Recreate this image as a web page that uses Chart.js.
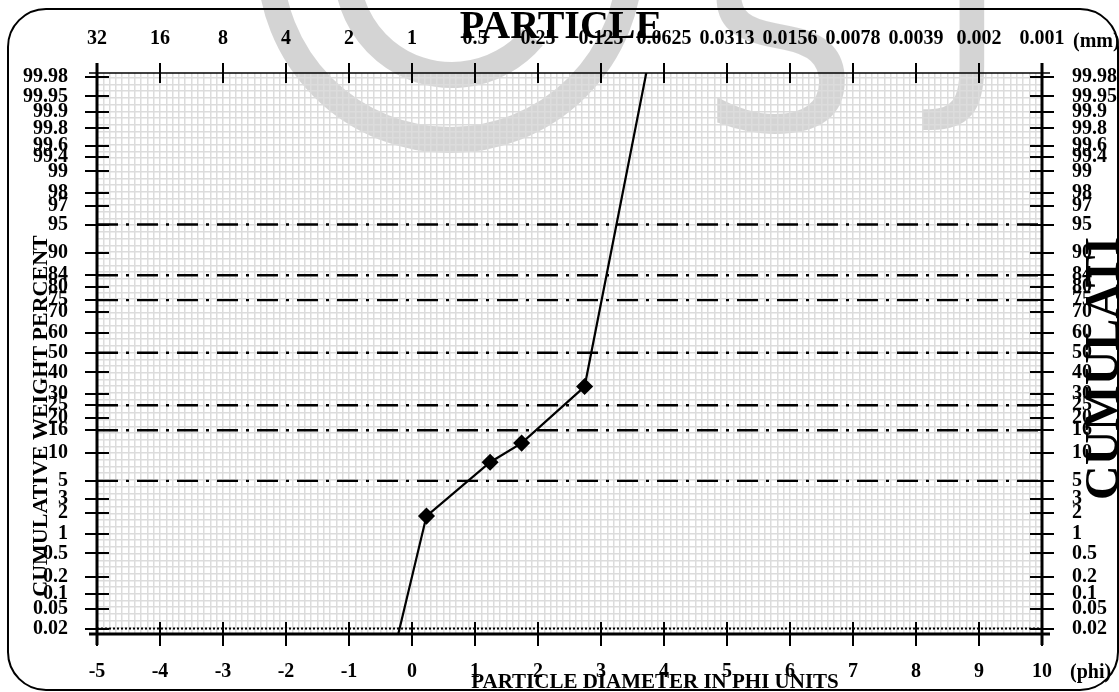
<!DOCTYPE html>
<html>
<head>
<meta charset="utf-8">
<title>Cumulative weight percent</title>
<script src="https://cdn.jsdelivr.net/npm/chart.js@4.4.1/dist/chart.umd.min.js"></script>
<style>
  html, body { margin: 0; padding: 0; background: #fff; }
  #wrap { width: 1119px; height: 692px; }
</style>
</head>
<body>
<div id="wrap"><canvas id="myChart" width="1119" height="692"></canvas></div>
<script>
// valores (phi vs % acumulado)
const phiValues = [-0.25, 0.23, 1.24, 1.74, 2.74, 3.75];
const cumPercent = [0.01, 1.8, 8.0, 12.3, 33.2, 99.99];

const phiTicks = [-5, -4, -3, -2, -1, 0, 1, 2, 3, 4, 5, 6, 7, 8, 9, 10];
const mmLabels = ['32', '16', '8', '4', '2', '1', '0.5', '0.25', '0.125', '0.0625', '0.0313', '0.0156', '0.0078', '0.0039', '0.002', '0.001'];
const percentTicks = [0.02, 0.05, 0.1, 0.2, 0.5, 1, 2, 3, 5, 10, 16, 20, 25, 30, 40, 50, 60, 70, 75, 80, 84, 90, 95, 97, 98, 99, 99.4, 99.6, 99.8, 99.9, 99.95, 99.98];
const refPercents = [5, 16, 25, 50, 75, 84, 95];
const basePercent = 0.02;

const serif = '"Liberation Serif", "Times New Roman", serif';
const gridGray = '#dcdcdc';

// inversa de la normal (papel probabilistico)
function probit(p) {
  const a = [-3.969683028665376e+01, 2.209460984245205e+02, -2.759285104469687e+02, 1.383577518672690e+02, -3.066479806614716e+01, 2.506628277459239e+00];
  const b = [-5.447609879822406e+01, 1.615858368580409e+02, -1.556989798598866e+02, 6.680131188771972e+01, -1.328068155288572e+01];
  const c = [-7.784894002430293e-03, -3.223964580411365e-01, -2.400758277161838e+00, -2.549732539343734e+00, 4.374664141464968e+00, 2.938163982698783e+00];
  const d = [7.784695709041462e-03, 3.224671290700398e-01, 2.445134137142996e+00, 3.754408661907416e+00];
  const pl = 0.02425;
  let q, r;
  if (p < pl) {
    q = Math.sqrt(-2 * Math.log(p));
    return (((((c[0]*q+c[1])*q+c[2])*q+c[3])*q+c[4])*q+c[5]) / ((((d[0]*q+d[1])*q+d[2])*q+d[3])*q+1);
  }
  if (p <= 1 - pl) {
    q = p - 0.5; r = q * q;
    return (((((a[0]*r+a[1])*r+a[2])*r+a[3])*r+a[4])*r+a[5])*q / (((((b[0]*r+b[1])*r+b[2])*r+b[3])*r+b[4])*r+1);
  }
  q = Math.sqrt(-2 * Math.log(1 - p));
  return -(((((c[0]*q+c[1])*q+c[2])*q+c[3])*q+c[4])*q+c[5]) / ((((d[0]*q+d[1])*q+d[2])*q+d[3])*q+1);
}
const zOf = pct => probit(pct / 100);

const Y_MIN = -3.61, Y_MAX = 3.59;

const lineData = phiValues.map((p, i) => ({ x: p, y: zOf(cumPercent[i]) }));
const lastIdx = lineData.length - 1;

const datasets = [{
  data: lineData,
  borderColor: '#000',
  borderWidth: 2.2,
  pointStyle: 'rectRot',
  pointRadius: ctx => (ctx.dataIndex === 0 || ctx.dataIndex === lastIdx) ? 0 : 7,
  pointBackgroundColor: '#000',
  pointBorderColor: '#000',
  tension: 0
}];
refPercents.forEach(p => {
  datasets.push({
    data: [{ x: -5, y: zOf(p) }, { x: 10, y: zOf(p) }],
    borderColor: '#000',
    borderWidth: 2.4,
    borderDash: [21, 8, 3, 8],
    pointRadius: 0
  });
});
datasets.push({
  data: [{ x: -5, y: zOf(basePercent) }, { x: 10, y: zOf(basePercent) }],
  borderColor: '#000',
  borderWidth: 2,
  borderDash: [2, 2],
  pointRadius: 0
});

const tickFont = { family: serif, size: 20, weight: 'bold' };

function stepTicks(min, max, step) {
  const out = [];
  for (let v = min; v <= max + 1e-9; v += step) out.push({ value: v });
  return out;
}

const frame = {
  id: 'frame',
  beforeDraw(chart) {
    const ctx = chart.ctx;
    ctx.save();
    ctx.fillStyle = '#fff';
    ctx.fillRect(0, 0, chart.width, chart.height);
    // marca de agua
    ctx.strokeStyle = 'rgba(0,0,0,0.17)';
    ctx.fillStyle = 'rgba(0,0,0,0.17)';
    ctx.lineWidth = 26;
    ctx.beginPath(); ctx.arc(450, -40, 180, 0, Math.PI * 2); ctx.stroke();
    ctx.beginPath(); ctx.arc(452, -30, 105, 0.22 * Math.PI, Math.PI); ctx.stroke();
    ctx.font = '250px "DejaVu Sans"';
    ctx.fillText('S', 700, 130);
    ctx.fillText('J', 935, 80);
    ctx.restore();
  },
  afterDatasetsDraw(chart) {
    const ctx = chart.ctx;
    const a = chart.chartArea;
    const xs = chart.scales.x, ys = chart.scales.y;
    ctx.save();
    ctx.strokeStyle = '#000';
    ctx.lineCap = 'butt';
    // ejes
    ctx.lineWidth = 3;
    ctx.beginPath();
    ctx.moveTo(a.left, a.top - 10); ctx.lineTo(a.left, a.bottom + 11);
    ctx.moveTo(a.right, a.top - 10); ctx.lineTo(a.right, a.bottom + 11);
    ctx.moveTo(a.left - 8, a.bottom); ctx.lineTo(a.right + 8, a.bottom);
    ctx.stroke();
    ctx.lineWidth = 1.5;
    ctx.beginPath();
    ctx.moveTo(a.left - 8, a.top); ctx.lineTo(a.right + 8, a.top);
    ctx.stroke();
    // marcas
    ctx.lineWidth = 2;
    ctx.beginPath();
    phiTicks.forEach(v => {
      const px = Math.round(xs.getPixelForValue(v));
      ctx.moveTo(px, a.bottom - 12); ctx.lineTo(px, a.bottom + 12);
      ctx.moveTo(px, a.top - 10); ctx.lineTo(px, a.top + 10);
    });
    percentTicks.forEach(p => {
      const py = Math.round(ys.getPixelForValue(zOf(p)));
      ctx.moveTo(a.left - 12, py); ctx.lineTo(a.left + 12, py);
      ctx.moveTo(a.right - 12, py); ctx.lineTo(a.right + 12, py);
    });
    ctx.stroke();
    ctx.restore();
  },
  afterDraw(chart) {
    const ctx = chart.ctx;
    ctx.save();
    ctx.fillStyle = '#000';
    ctx.textBaseline = 'alphabetic';
    // unidades
    ctx.font = 'bold 20px ' + serif;
    ctx.textAlign = 'left';
    ctx.fillText('(mm)', 1073, 47);
    ctx.fillText('(phi)', 1070, 678);
    // titulos
    ctx.textAlign = 'center';
    ctx.font = 'bold 40px ' + serif;
    ctx.fillText('PARTICLE', 561, 38);
    ctx.font = 'bold 21px ' + serif;
    ctx.fillText('PARTICLE DIAMETER IN PHI UNITS', 655, 688);
    ctx.save();
    ctx.translate(47, 416);
    ctx.rotate(-Math.PI / 2);
    ctx.font = 'bold 22px ' + serif;
    ctx.fillText('CUMULATIVE WEIGHT PERCENT', 0, 0);
    ctx.restore();
    ctx.save();
    ctx.translate(1118, 500);
    ctx.rotate(-Math.PI / 2);
    ctx.textAlign = 'left';
    ctx.font = 'bold 48px ' + serif;
    ctx.fillText('CUMULATI', 0, 0);
    ctx.restore();
    // marco redondeado
    const x0 = 8, y0 = 9, x1 = 1118, y1 = 690, r = 38;
    ctx.strokeStyle = '#000';
    ctx.lineWidth = 2;
    ctx.beginPath();
    ctx.moveTo(x0 + r, y0);
    ctx.arcTo(x1, y0, x1, y1, r);
    ctx.arcTo(x1, y1, x0, y1, r);
    ctx.arcTo(x0, y1, x0, y0, r);
    ctx.arcTo(x0, y0, x1, y0, r);
    ctx.closePath();
    ctx.stroke();
    ctx.restore();
  }
};

const noGrid = { display: false, drawTicks: false };

new Chart(document.getElementById('myChart'), {
  type: 'line',
  data: { datasets },
  options: {
    responsive: false,
    animation: false,
    devicePixelRatio: 1,
    layout: { padding: 0 },
    plugins: { legend: { display: false }, tooltip: { enabled: false }, title: { display: false } },
    events: [],
    scales: {
      x: {
        type: 'linear', position: 'bottom', min: -5, max: 10,
        afterBuildTicks: s => { s.ticks = phiTicks.map(v => ({ value: v })); },
        afterFit: s => { s.height = 58; },
        grid: noGrid, border: { display: false },
        ticks: { font: tickFont, color: '#000', padding: 26, autoSkip: false, maxRotation: 0,
          callback: (v, i) => String(phiTicks[i]) }
      },
      xg: {
        type: 'linear', position: 'bottom', min: -5, max: 10,
        afterBuildTicks: s => { s.ticks = stepTicks(-5, 10, 0.1); },
        afterFit: s => { s.height = 0; },
        grid: { color: gridGray, lineWidth: 1.5, drawTicks: false },
        border: { display: false },
        ticks: { display: false }
      },
      x2: {
        type: 'linear', position: 'top', min: -5, max: 10,
        afterBuildTicks: s => { s.ticks = phiTicks.map(v => ({ value: v })); },
        afterFit: s => { s.height = 73; },
        grid: noGrid, border: { display: false },
        ticks: { font: tickFont, color: '#000', padding: 22, autoSkip: false, maxRotation: 0,
          callback: (v, i) => mmLabels[i] }
      },
      y: {
        type: 'linear', position: 'left', min: Y_MIN, max: Y_MAX,
        afterBuildTicks: s => { s.ticks = percentTicks.map(p => ({ value: zOf(p) })); },
        afterFit: s => { s.width = 97; },
        grid: noGrid, border: { display: false },
        ticks: { font: tickFont, color: '#000', padding: 29, autoSkip: false,
          callback: (v, i) => String(percentTicks[i]) }
      },
      yg: {
        type: 'linear', position: 'left', min: Y_MIN, max: Y_MAX,
        afterBuildTicks: s => { s.ticks = stepTicks(Y_MIN, Y_MAX, 0.086); },
        afterFit: s => { s.width = 0; },
        grid: { color: gridGray, lineWidth: 1.5, drawTicks: false },
        border: { display: false },
        ticks: { display: false }
      },
      y2: {
        type: 'linear', position: 'right', min: Y_MIN, max: Y_MAX,
        afterBuildTicks: s => { s.ticks = percentTicks.map(p => ({ value: zOf(p) })); },
        afterFit: s => { s.width = 77; },
        grid: noGrid, border: { display: false },
        ticks: { font: tickFont, color: '#000', padding: 30, autoSkip: false,
          callback: (v, i) => String(percentTicks[i]) }
      }
    }
  },
  plugins: [frame]
});
</script>
</body>
</html>
